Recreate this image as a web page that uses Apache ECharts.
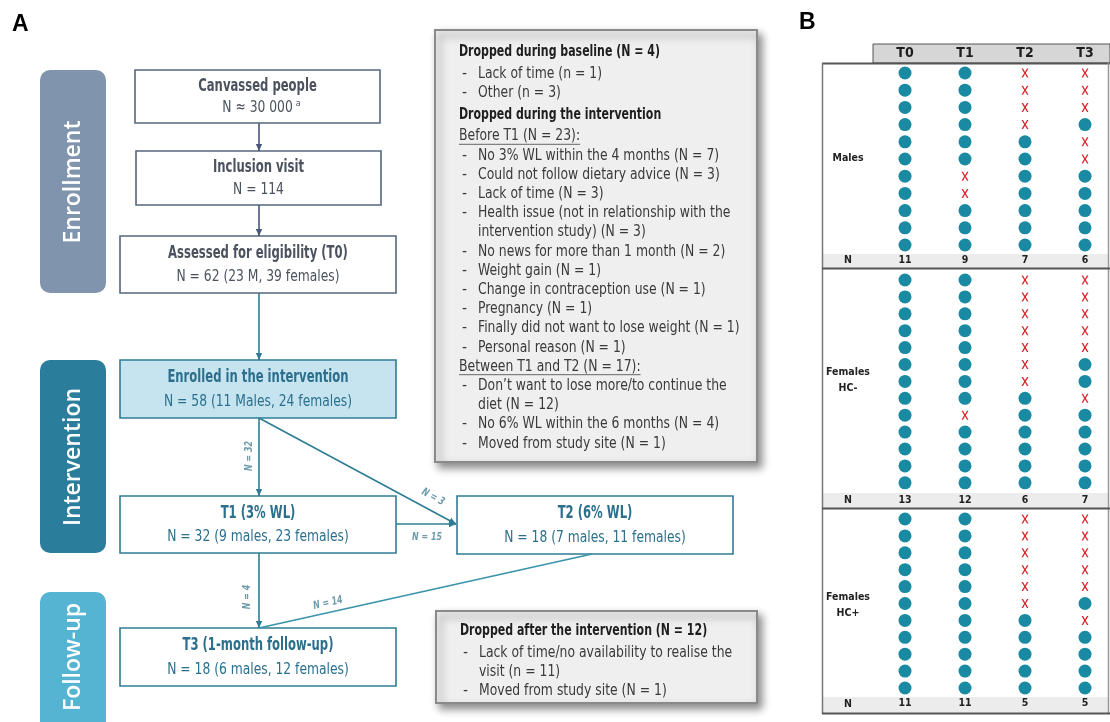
<!DOCTYPE html>
<html><head><meta charset="utf-8">
<script src="https://cdn.jsdelivr.net/npm/echarts@6.0.0/dist/echarts.min.js"></script>
<style>html,body{margin:0;padding:0;background:#fff;}#main{width:1110px;height:722px;}</style>
</head><body><div id="main"></div>
<script>
// ================= DATA =================
const panelLabels = ['A', 'B'];
const stageLabels = ['Enrollment', 'Intervention', 'Follow-up'];
const boxTitles = ['Canvassed people', 'Inclusion visit', 'Assessed for eligibility (T0)',
  'Enrolled in the intervention', 'T1 (3% WL)', 'T2 (6% WL)', 'T3 (1-month follow-up)'];
const boxCounts = ['N \u2248 30 000', 'N = 114', 'N = 62 (23 M, 39 females)',
  'N = 58 (11 Males, 24 females)', 'N = 32 (9 males, 23 females)',
  'N = 18 (7 males, 11 females)', 'N = 18 (6 males, 12 females)'];
const footnoteMark = 'a';
const flowLabels = ['N = 32', 'N = 3', 'N = 15', 'N = 4', 'N = 14'];
// h = heading, u = underlined sub-heading, b = bullet, c = continuation
const dropDuring = [
  ['h', 'Dropped during baseline (N = 4)'],
  ['b', 'Lack of time (n = 1)'],
  ['b', 'Other (n = 3)'],
  ['h', 'Dropped during the intervention'],
  ['u', 'Before T1 (N = 23):'],
  ['b', 'No 3% WL within the 4 months (N = 7)'],
  ['b', 'Could not follow dietary advice (N = 3)'],
  ['b', 'Lack of time (N = 3)'],
  ['b', 'Health issue (not in relationship with the'],
  ['c', 'intervention study) (N = 3)'],
  ['b', 'No news for more than 1 month (N = 2)'],
  ['b', 'Weight gain (N = 1)'],
  ['b', 'Change in contraception use (N = 1)'],
  ['b', 'Pregnancy (N = 1)'],
  ['b', 'Finally did not want to lose weight (N = 1)'],
  ['b', 'Personal reason (N = 1)'],
  ['u', 'Between T1 and T2 (N = 17):'],
  ['b', 'Don\u2019t want to lose more/to continue the'],
  ['c', 'diet (N = 12)'],
  ['b', 'No 6% WL within the 6 months (N = 4)'],
  ['b', 'Moved from study site (N = 1)']
];
const dropAfter = [
  ['h', 'Dropped after the intervention (N = 12)'],
  ['b', 'Lack of time/no availability to realise the'],
  ['c', 'visit (n = 11)'],
  ['b', 'Moved from study site (N = 1)']
];
const timepoints = ['T0', 'T1', 'T2', 'T3'];
const groupNames = ['Males', 'Females\nHC-', 'Females\nHC+'];
// 1 = still in study (dot), 0 = dropped (x); one entry per participant row
const malesT0 = [1,1,1,1,1,1,1,1,1,1,1];
const malesT1 = [1,1,1,1,1,1,0,0,1,1,1];
const malesT2 = [0,0,0,0,1,1,1,1,1,1,1];
const malesT3 = [0,0,0,1,0,0,1,1,1,1,1];
const hcMinusT0 = [1,1,1,1,1,1,1,1,1,1,1,1,1];
const hcMinusT1 = [1,1,1,1,1,1,1,1,0,1,1,1,1];
const hcMinusT2 = [0,0,0,0,0,0,0,1,1,1,1,1,1];
const hcMinusT3 = [0,0,0,0,0,1,1,0,1,1,1,1,1];
const hcPlusT0 = [1,1,1,1,1,1,1,1,1,1,1];
const hcPlusT1 = [1,1,1,1,1,1,1,1,1,1,1];
const hcPlusT2 = [0,0,0,0,0,0,1,1,1,1,1];
const hcPlusT3 = [0,0,0,0,0,1,0,1,1,1,1];
const nLabel = 'N';

// ================= LAYOUT / STYLE =================
const FC = "'Liberation Sans Narrow','DejaVu Sans Condensed','Arial Narrow',sans-serif";
const FS = "'Open Sans','DejaVu Sans',sans-serif";
const FA = "'Liberation Sans',Arial,sans-serif";
const groups = [
  [malesT0, malesT1, malesT2, malesT3],
  [hcMinusT0, hcMinusT1, hcMinusT2, hcMinusT3],
  [hcPlusT0, hcPlusT1, hcPlusT2, hcPlusT3]
];
const counts = groups.map(g => g.map(col => col.reduce((a, b) => a + b, 0)));

const G = [];
const mctx = document.createElement('canvas').getContext('2d');
function measure(s, size, weight, fam) { mctx.font = (weight || 'normal') + ' ' + size + 'px ' + fam; return mctx.measureText(s).width; }
function rect(x, y, w, h, style, r) { G.push({ type: 'rect', shape: { x, y, width: w, height: h, r: r || 0 }, style }); }
function txt(s, x, y, o) {
  o = o || {};
  G.push({ type: 'text', x, y, rotation: o.rot || 0, scaleX: o.sx || 1, z: 10,
    style: { text: s, fill: o.color || '#333', fontSize: o.size || 14, fontFamily: o.family || FC,
      fontWeight: o.weight || 'normal', fontStyle: o.fstyle || 'normal',
      align: o.align || 'left', verticalAlign: 'middle', textAlign: o.align || 'left', textVerticalAlign: 'middle',
      lineHeight: o.lh } });
}
function line(x1, y1, x2, y2, color, lw) { G.push({ type: 'line', shape: { x1, y1, x2, y2 }, style: { stroke: color, lineWidth: lw } }); }
function arrow(x1, y1, x2, y2, color, lw, head) {
  line(x1, y1, x2, y2, color, lw);
  if (head) {
    const a = Math.atan2(y2 - y1, x2 - x1), L = 7, W = 3.2;
    const bx = x2 - L * Math.cos(a), by = y2 - L * Math.sin(a);
    G.push({ type: 'polygon', shape: { points: [[x2, y2], [bx + W * Math.sin(a), by - W * Math.cos(a)], [bx - W * Math.sin(a), by + W * Math.cos(a)]] }, style: { fill: color } });
  }
}

// ---- Panel A ----
txt(panelLabels[0], 12, 25, { size: 23, weight: 'bold', family: FA, color: '#000' });
txt(panelLabels[1], 799, 23, { size: 23, weight: 'bold', family: FA, color: '#000' });

const stageGeom = [[40, 70, 66, 223, '#8194ae', 182], [40, 360, 66, 193, '#2a7e9c', 457], [40, 592, 66, 150, '#55b4d1', 657]];
stageGeom.forEach((s, i) => {
  rect(s[0], s[1], s[2], s[3], { fill: s[4] }, 10);
  txt(stageLabels[i], 73, s[5], { rot: Math.PI / 2, align: 'center', size: 23, weight: 600, family: FS, color: '#fff' });
});

const slate = '#56667f', slateText = '#4b525e', teal = '#2f7c94', tealText = '#2c6f8c';
const boxGeom = [[135, 70, 245, 53], [136, 151, 245, 54], [120, 236, 276, 57], [120, 360, 276, 58],
  [120, 496, 276, 57], [457, 496, 276, 58], [120, 628, 276, 58]];
boxGeom.forEach((b, i) => {
  const enr = i < 3;
  rect(b[0], b[1], b[2], b[3], { fill: i === 3 ? '#c5e4f0' : '#fff', stroke: enr ? slate : teal, lineWidth: 1.6 });
  const cx = b[0] + b[2] / 2, col = enr ? slateText : tealText;
  txt(boxTitles[i], cx, b[1] + b[3] * 0.31, { align: 'center', size: 17, weight: 'bold', color: col, sx: 0.76 });
  txt(boxCounts[i], cx, b[1] + b[3] * 0.72, { align: 'center', size: 16.5, color: col, sx: 0.83 });
  if (i === 0) {
    const w = measure(boxCounts[i], 16.5, 'normal', FC) * 0.83;
    txt(footnoteMark, cx + w / 2 + 3, b[1] + b[3] * 0.72 - 5, { size: 9, color: col });
  }
});

const arrowSlate = '#47597a';
arrow(259, 123, 259, 151, arrowSlate, 1.6, true);
arrow(259, 205, 259, 236, arrowSlate, 1.6, true);
arrow(259, 293, 259, 360, teal, 1.6, true);
arrow(259, 418, 259, 496, teal, 1.6, true);
arrow(259, 418, 456, 524, teal, 1.6, true);
arrow(396, 524, 456, 524, teal, 1.6, true);
arrow(259, 553, 259, 628, teal, 1.6, true);
arrow(592, 554, 259, 628, '#3a93ab', 1.6, false);
const flLab = { size: 11, fstyle: 'italic', weight: 'bold', color: '#6e9bab', align: 'center', sx: 0.8 };
txt(flowLabels[0], 249, 456, Object.assign({ rot: Math.PI / 2 }, flLab));
txt(flowLabels[1], 433, 497, Object.assign({ rot: -0.497 }, flLab));
txt(flowLabels[2], 427, 537, flLab);
txt(flowLabels[3], 247, 597, Object.assign({ rot: Math.PI / 2 }, flLab));
txt(flowLabels[4], 328, 603, Object.assign({ rot: 0.215 }, flLab));

function dropBox(x, y, w, h, lines, y0) {
  rect(x, y, w, h, { fill: '#efefef', stroke: '#8a8a8a', lineWidth: 2, shadowBlur: 8, shadowColor: 'rgba(0,0,0,0.45)', shadowOffsetX: 4, shadowOffsetY: 5 });
  let yy = y0, prev = null;
  const bs = 15.5, bsx = 0.89;
  lines.forEach((l, i) => {
    if (i > 0) yy += 19.2 + ((l[0] === 'h' || prev === 'h') ? 2.5 : 0);
    const k = l[0];
    if (k === 'h') txt(l[1], x + 24, yy, { size: 16.5, weight: 'bold', color: '#1e1e1e', sx: 0.74 });
    else if (k === 'u') {
      txt(l[1], x + 24, yy, { size: bs, color: '#3a3a3a', sx: bsx });
      const w2 = measure(l[1], bs, 'normal', FC) * bsx;
      line(x + 24, yy + 8, x + 24 + w2, yy + 8, '#666', 1);
    } else {
      if (k === 'b') txt('-', x + 27, yy, { size: bs, color: '#3a3a3a' });
      txt(l[1], x + 43, yy, { size: bs, color: '#3a3a3a', sx: bsx });
    }
    prev = k;
  });
}
dropBox(435, 30, 322, 432, dropDuring, 52);
dropBox(436, 611, 321, 92, dropAfter, 631);

// ---- Panel B frame ----
rect(873, 44, 237, 19, { fill: '#d6d6d6', stroke: '#555', lineWidth: 1 });
const bandY = [[254, 14], [493, 15], [697, 16]];
bandY.forEach(b => rect(822, b[0], 286, b[1], { fill: '#ececec' }));
line(822, 63.5, 1110, 63.5, '#555', 2);
line(822.5, 63, 822.5, 714, '#777', 1.5);
line(1108.5, 63, 1108.5, 714, '#999', 1.5);
[268.5, 508.5, 713.5].forEach(y => line(822, y, 1110, y, '#555', 2));
const labelY = [158, 380, 605];
groupNames.forEach((n, i) => txt(n, 848, labelY[i], { align: 'center', size: 10.5, weight: 'bold', color: '#222', lh: 16 }));
[260, 500.5, 704].forEach(y => txt(nLabel, 848, y, { align: 'center', size: 10.5, weight: 'bold', color: '#222' }));

// ---- Panel B grids ----
const gridGeom = [[64.4, 189.2, 6.4], [271.55, 219.7, 8.75], [510.55, 185.9, 7.2]];
const grids = [], xAxes = [], yAxes = [], series = [];
const crossPath = 'path://M0,0 L2.2,0 L5,4.6 L7.8,0 L10,0 L6.2,6 L10,12 L7.8,12 L5,7.4 L2.2,12 L0,12 L3.8,6 Z';
groups.forEach((g, gi) => {
  const [top, h, m] = gridGeom[gi];
  grids.push({ left: 905, right: 25, top, height: h });
  xAxes.push({ type: 'category', gridIndex: gi, position: 'top', data: timepoints, boundaryGap: false,
    axisLine: { show: false }, axisTick: { show: false }, splitLine: { show: false },
    axisLabel: { show: gi === 0, margin: 11.4, verticalAlign: 'middle', fontFamily: FC, fontWeight: 'bold', fontSize: 14, color: '#1e1e1e' } });
  xAxes.push({ type: 'category', gridIndex: gi, position: 'bottom', data: timepoints, boundaryGap: false,
    axisLine: { show: false }, axisTick: { show: false }, splitLine: { show: false },
    axisLabel: { margin: m, verticalAlign: 'middle', fontFamily: FC, fontWeight: 'bold', fontSize: 10.5, color: '#222',
      formatter: (v, idx) => String(counts[gi][idx]) } });
  yAxes.push({ type: 'category', gridIndex: gi, inverse: true, show: false, data: g[0].map((_, i) => String(i)) });
  const dots = [], crosses = [];
  g.forEach((col, ti) => col.forEach((v, ri) => (v ? dots : crosses).push([ti, ri])));
  series.push({ type: 'scatter', xAxisIndex: gi * 2, yAxisIndex: gi, data: dots, symbol: 'circle', symbolSize: 13,
    itemStyle: { color: '#1a8aa3', opacity: 1 }, silent: true });
  series.push({ type: 'scatter', xAxisIndex: gi * 2, yAxisIndex: gi, data: crosses, symbol: crossPath, symbolSize: [7, 9],
    itemStyle: { color: '#d8262d', opacity: 1 }, silent: true });
});

const chart = echarts.init(document.getElementById('main'));
chart.setOption({
  animation: false,
  backgroundColor: '#fff',
  grid: grids, xAxis: xAxes, yAxis: yAxes, series,
  graphic: { elements: G }
});
</script></body></html>
